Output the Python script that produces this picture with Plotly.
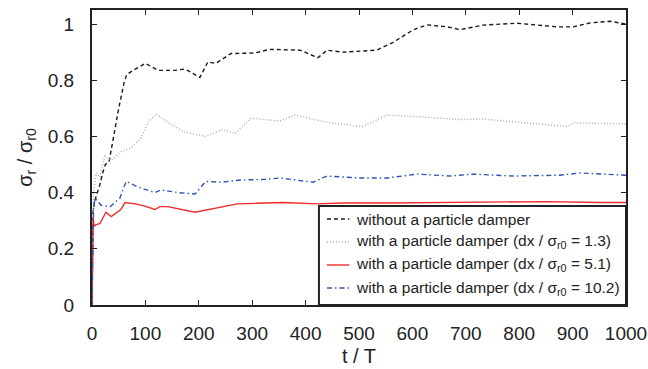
import plotly.graph_objects as go

# ---- data ----
t_black = [0, 2, 5, 10, 15, 20, 25, 32, 40, 50, 60, 65, 77, 100, 124, 155, 174, 202, 217, 232,
           260, 305, 333, 390, 423, 440, 470, 533, 564, 601, 627, 665, 689, 732, 796, 833, 871,
           901, 933, 970, 1000]
y_black = [0, 0.33, 0.37, 0.40, 0.43, 0.47, 0.50, 0.51, 0.60, 0.70, 0.79, 0.82, 0.835, 0.86,
           0.835, 0.835, 0.84, 0.81, 0.865, 0.86, 0.895, 0.897, 0.91, 0.907, 0.88, 0.907, 0.90,
           0.907, 0.935, 0.979, 0.997, 0.99, 0.98, 0.996, 1.003, 0.996, 0.99, 0.99, 1.004,
           1.01, 1.0]

t_gray = [0, 3, 8, 15, 24, 36, 54, 73, 92, 105, 120, 142, 174, 213, 245, 268, 298, 330, 352,
          380, 440, 507, 552, 614, 689, 732, 826, 891, 901, 994, 1000]
y_gray = [0, 0.40, 0.47, 0.455, 0.53, 0.515, 0.545, 0.56, 0.595, 0.65, 0.68, 0.65, 0.615, 0.60,
          0.625, 0.61, 0.665, 0.66, 0.655, 0.676, 0.65, 0.635, 0.676, 0.67, 0.66, 0.662, 0.645,
          0.635, 0.648, 0.645, 0.645]

t_red = [0, 1, 2, 4, 7, 15, 21, 26, 36, 49, 54, 62, 81, 99, 118, 127, 142, 193, 221, 272, 309,
         358, 421, 470, 550, 650, 750, 850, 950, 1000]
y_red = [0, 0.25, 0.31, 0.28, 0.285, 0.29, 0.31, 0.33, 0.315, 0.335, 0.34, 0.365, 0.36, 0.352,
         0.34, 0.35, 0.35, 0.33, 0.34, 0.36, 0.362, 0.365, 0.36, 0.363, 0.363, 0.365, 0.365,
         0.368, 0.365, 0.365]

t_blue = [0, 1, 3, 6, 17, 34, 52, 64, 86, 118, 129, 161, 193, 213, 242, 279, 324, 352, 414,
          440, 502, 552, 609, 670, 714, 788, 876, 914, 994, 1000]
y_blue = [0, 0.20, 0.35, 0.38, 0.355, 0.35, 0.38, 0.44, 0.42, 0.40, 0.41, 0.40, 0.395, 0.44,
          0.437, 0.445, 0.447, 0.452, 0.437, 0.459, 0.452, 0.452, 0.466, 0.459, 0.466, 0.459,
          0.462, 0.47, 0.462, 0.462]

names = [
    "without a particle damper",
    "with a particle damper (dx / σ<sub>r0</sub> = 1.3)",
    "with a particle damper (dx / σ<sub>r0</sub> = 5.1)",
    "with a particle damper (dx / σ<sub>r0</sub> = 10.2)",
]
x_ticks = [0, 100, 200, 300, 400, 500, 600, 700, 800, 900, 1000]
y_ticks = [0, 0.2, 0.4, 0.6, 0.8, 1]
x_title = "t / T"
y_title = "σ<sub>r</sub> / σ<sub>r0</sub>"

series = [(t_black, y_black), (t_gray, y_gray), (t_red, y_red), (t_blue, y_blue)]
colors = ["#1a1a1a", "#a8a8a8", "#ee2b2b", "#2f55b0"]
dashes = ["4px,3px", "1px,2px", "solid", "5px,3px,1.5px,3px"]

FONT = "Liberation Sans, Arial, Helvetica, sans-serif"
INK = "#222222"

fig = go.Figure()
for (tx, ty), name, c, d in zip(series, names, colors, dashes):
    fig.add_trace(go.Scatter(x=tx, y=ty, mode="lines", name=name, showlegend=False,
                             line=dict(color=c, width=1.4, dash=d)))

axis_common = dict(showline=True, linecolor=INK, linewidth=2, mirror="ticks",
                   ticks="inside", ticklen=5, tickwidth=1, tickcolor=INK,
                   showgrid=False, zeroline=False, automargin=False,
                   tickfont=dict(family=FONT, size=19, color=INK))

fig.update_xaxes(range=[0, 1000], tickvals=x_ticks, ticktext=[str(v) for v in x_ticks],
                 ticklabelstandoff=10, **axis_common)
fig.update_yaxes(range=[0, 1.05], tickvals=y_ticks, ticktext=["0", "0.2", "0.4", "0.6", "0.8", "1"],
                 ticklabelstandoff=12,
                 title=dict(text=y_title, font=dict(family=FONT, size=20, color=INK), standoff=10),
                 **axis_common)

# ---- legend box (paper coordinates inside the plot area) ----
leg_x0, leg_x1, leg_y0, leg_y1 = 0.425, 1.0, 0.0, 0.336
row_y = [0.2915, 0.2136, 0.1356, 0.0576]
shapes = [dict(type="rect", xref="paper", yref="paper", x0=leg_x0, x1=leg_x1, y0=leg_y0, y1=leg_y1,
               line=dict(color=INK, width=2), fillcolor="white", layer="above")]
annotations = [dict(xref="paper", yref="paper", x=0.5, y=-0.172, xanchor="center",
                    yanchor="middle", text=x_title, showarrow=False,
                    font=dict(family=FONT, size=20, color=INK))]
for ry, name, c, d in zip(row_y, names, colors, dashes):
    shapes.append(dict(type="line", xref="paper", yref="paper", x0=0.440, x1=0.482, y0=ry, y1=ry,
                       line=dict(color=c, width=1.4, dash=d), layer="above"))
    annotations.append(dict(xref="paper", yref="paper", x=0.4906, y=ry, xanchor="left",
                            yanchor="middle", text=name, showarrow=False,
                            font=dict(family=FONT, size=15.5, color=INK)))

fig.update_layout(
    width=648, height=369,
    margin=dict(l=92, r=22, t=10, b=64),
    plot_bgcolor="white", paper_bgcolor="white",
    showlegend=False,
    shapes=shapes, annotations=annotations,
)

fig.write_html("out.html")
